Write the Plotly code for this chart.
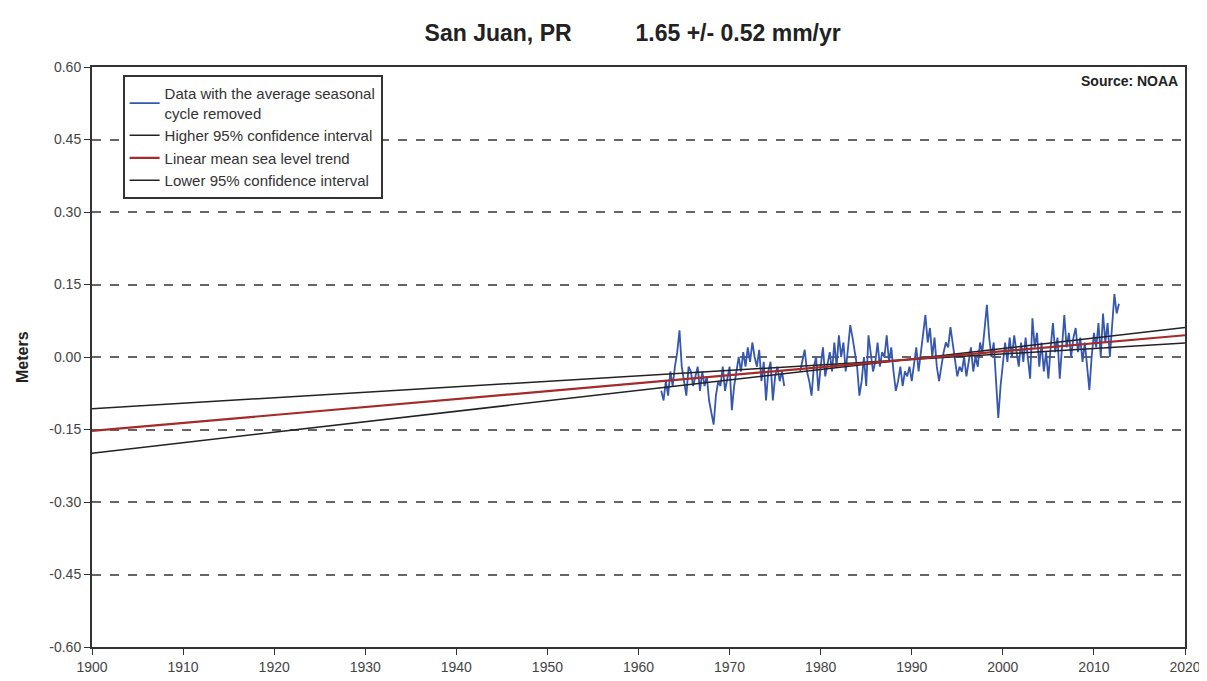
import numpy as np
import plotly.graph_objects as go

# ---- data ----
# quarterly values, metres, starting 1962 Q3
data_start = 1962.5
data_values = [
    -0.07, -0.09,                      # 1962 (Q3,Q4)
    -0.05, -0.08, -0.03, -0.06,        # 1963
    -0.02, 0.01, 0.055, -0.02,         # 1964
    -0.05, -0.08, -0.02, -0.03,        # 1965
    -0.06, -0.04, -0.02, -0.07,        # 1966
    -0.03, -0.06, -0.04, -0.09,        # 1967
    -0.12, -0.14, -0.08, -0.05,        # 1968
    -0.06, -0.02, -0.07, -0.04,        # 1969
    -0.02, -0.11, -0.06, -0.03,        # 1970
    0.00, -0.03, 0.01, -0.02,          # 1971
    0.02, -0.01, 0.03, 0.00,           # 1972
    -0.02, 0.015, -0.05, -0.01,        # 1973
    -0.09, -0.03, -0.01, -0.09,        # 1974
    -0.04, -0.02, -0.05, -0.03,        # 1975
    -0.06, None, None, None,           # 1976
    None, None, None, -0.03,           # 1977
    -0.01, 0.015, -0.03, -0.05,        # 1978
    -0.08, -0.02, 0.00, -0.07,         # 1979
    -0.02, 0.02, -0.04, -0.01,         # 1980
    0.01, -0.03, 0.03, -0.02,          # 1981
    0.045, 0.00, 0.03, -0.03,          # 1982
    0.02, 0.066, 0.04, 0.01,           # 1983
    -0.02, -0.08, -0.05, 0.00,         # 1984
    -0.06, 0.045, 0.01, -0.03,         # 1985
    -0.01, 0.03, -0.02, 0.01,          # 1986
    0.00, 0.045, -0.01, 0.02,          # 1987
    -0.03, -0.07, -0.05, -0.02,        # 1988
    -0.06, -0.03, -0.04, -0.02,        # 1989
    -0.05, -0.01, 0.02, -0.03,         # 1990
    0.01, 0.05, 0.087, 0.03,           # 1991
    0.06, 0.00, 0.04, -0.02,           # 1992
    -0.05, -0.02, 0.01, 0.03,          # 1993
    0.02, 0.062, 0.03, -0.01,          # 1994
    -0.04, -0.02, -0.03, 0.00,         # 1995
    -0.04, -0.01, 0.02, -0.03,         # 1996
    0.00, -0.02, 0.03, 0.01,           # 1997
    0.06, 0.108, 0.04, 0.00,           # 1998
    0.03, -0.04, -0.126, -0.06,        # 1999
    -0.02, 0.03, -0.01, 0.04,          # 2000
    0.00, 0.045, 0.01, -0.02,          # 2001
    0.03, -0.01, 0.04, 0.00,           # 2002
    -0.045, 0.08, 0.02, 0.05,          # 2003
    -0.02, 0.03, -0.03, 0.01,          # 2004
    -0.045, 0.02, 0.07, 0.01,          # 2005
    0.04, -0.045, 0.02, 0.087,         # 2006
    0.02, 0.05, 0.00, 0.04,            # 2007
    0.06, 0.01, 0.04, -0.01,           # 2008
    0.03, -0.02, -0.068, 0.00,         # 2009
    0.05, 0.02, 0.07, 0.00,            # 2010
    0.09, 0.03, 0.07, 0.00,            # 2011
    0.06, 0.13, 0.09, 0.11,            # 2012
]
data_years = data_start + 0.25 * np.arange(len(data_values))

trend_years = [1900, 2020]
trend_mean = [-0.153, 0.045]
ci_higher = [-0.199, 0.061]
ci_lower = [-0.107, 0.029]

y_ticks = [0.60, 0.45, 0.30, 0.15, 0.00, -0.15, -0.30, -0.45, -0.60]
y_tick_labels = ["0.60", "0.45", "0.30", "0.15", "0.00", "-0.15", "-0.30", "-0.45", "-0.60"]
x_ticks = list(range(1900, 2021, 10))

FONT = "Liberation Sans, Arial, sans-serif"

fig = go.Figure()
fig.add_trace(go.Scatter(x=data_years, y=data_values, mode="lines",
                         name="Data with the average seasonal<br>cycle removed",
                         line=dict(color="#3557b0", width=1.8), legendrank=1,
                         connectgaps=False))
fig.add_trace(go.Scatter(x=trend_years, y=ci_higher, mode="lines",
                         name="Higher 95% confidence interval",
                         line=dict(color="#222222", width=1.5), legendrank=2))
fig.add_trace(go.Scatter(x=trend_years, y=ci_lower, mode="lines",
                         name="Lower 95% confidence interval",
                         line=dict(color="#222222", width=1.5), legendrank=4))
fig.add_trace(go.Scatter(x=trend_years, y=trend_mean, mode="lines",
                         name="Linear mean sea level trend",
                         line=dict(color="#a52a2a", width=2.2), legendrank=3))

fig.update_layout(
    width=1199, height=673,
    margin=dict(l=84, r=22, t=59, b=34),
    paper_bgcolor="white", plot_bgcolor="white",
    font=dict(family=FONT, size=14, color="#444444"),
    title=dict(text="<b>San Juan, PR</b>&nbsp;&nbsp;&nbsp;&nbsp;&nbsp;&nbsp;&nbsp;&nbsp;&nbsp;&nbsp;<b>1.65 +/- 0.52 mm/yr</b>",
               x=0.521, xanchor="center", y=0.963, yanchor="middle",
               font=dict(family=FONT, size=23, color="#222222")),
    showlegend=True,
    legend=dict(x=0.028, y=0.986, xanchor="left", yanchor="top",
                bgcolor="white", bordercolor="#333333", borderwidth=2,
                font=dict(family=FONT, size=15, color="#333333"),
                tracegroupgap=0, itemwidth=30),
    annotations=[
        dict(text="<b>Source: NOAA</b>", xref="paper", yref="paper",
             x=0.995, y=0.993, xanchor="right", yanchor="top",
             showarrow=False, font=dict(family=FONT, size=14, color="#222222")),
        dict(text="<b>Meters</b>", xref="paper", yref="paper",
             x=-0.064, y=0.5, xanchor="center", yanchor="middle", textangle=-90,
             showarrow=False, font=dict(family=FONT, size=16, color="#222222")),
    ],
)
fig.update_xaxes(range=[1900, 2020], tickvals=x_ticks, ticks="outside",
                 ticklen=6, tickcolor="#333333", showline=True, linecolor="#333333",
                 linewidth=2, mirror=True, showgrid=False, zeroline=False,
                 automargin=False)
fig.update_yaxes(range=[-0.60, 0.60], tickvals=y_ticks, ticktext=y_tick_labels,
                 ticks="outside", ticklen=6, tickcolor="#333333", showline=True,
                 linecolor="#333333", linewidth=2, mirror=True,
                 showgrid=True, gridcolor="#666666", gridwidth=1.5, griddash="dash",
                 zeroline=False, automargin=False)

fig.write_html("out.html")
